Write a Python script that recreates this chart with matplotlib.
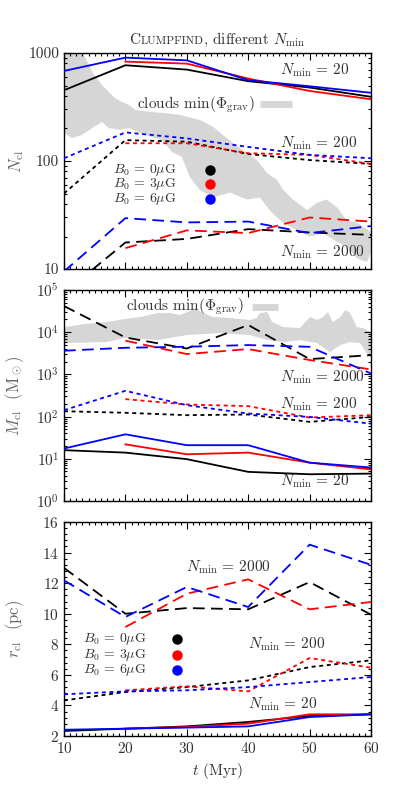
import numpy as np
import matplotlib
matplotlib.use("Agg")
import matplotlib.pyplot as plt
from matplotlib.ticker import MultipleLocator, LogLocator, FixedLocator, FixedFormatter, NullFormatter

plt.rcParams['font.family'] = 'serif'
plt.rcParams['font.serif'] = ['cmr10', 'DejaVu Serif']
plt.rcParams['mathtext.fontset'] = 'cm'
plt.rcParams['axes.formatter.use_mathtext'] = True

# time axis (Myr)
t = np.array([10, 20, 30, 40, 50, 60])
nan = np.nan

# number of clumps
N20_b0 = [452, 770, 702, 548, 479, 393]
N20_b3 = [nan, 832, 797, 580, 445, 373]
N20_b6 = [682, 906, 855, 560, 492, 428]
N200_b0 = [50, 156, 151, 116, 102, 94]
N200_b3 = [nan, 146, 146, 118, 114, 94]
N200_b6 = [106, 184, 162, 135, 114, 106]
N2000_b0 = [6, 17.6, 19, 23.4, 21.8, 20.7]
N2000_b3 = [nan, 15.6, 22.8, 21.5, 30, 27.5]
N2000_b6 = [9.5, 29.6, 27, 27.5, 21.5, 25]

# clouds min(Phi_grav) band, panel 1
cl_N_t_up = [10, 13.1, 14.7, 16.2, 17.3, 18.3, 19.4, 20.6, 21.6, 24, 26.4, 28.9, 32.1, 34.3,
             35.9, 37.5, 39.8, 41.4, 43.1, 44.7, 45.7, 47.3, 49.6, 51.2, 52.8, 54.5, 56.1,
             57.7, 60]
cl_N_up = [1200, 1000, 653, 506, 435, 383, 352, 330, 297, 285, 278, 267, 240, 207,
           174, 147, 119, 102, 77, 67, 54, 44, 35, 41, 44, 37, 28, 27, 22]
cl_N_t_lo = [10, 11.3, 12.9, 14.6, 16.2, 17.3, 19, 20.6, 23.2, 26, 27.6, 29.2, 30.5, 32.1,
             34.3, 37, 39.8, 41.9, 43.5, 44.7, 45.7, 47.9, 50, 52.2, 54.5, 56.1, 57.7,
             59.3, 60]
cl_N_lo = [182, 163, 174, 202, 230, 202, 194, 202, 174, 156, 121, 109, 71, 54,
           46, 51, 44, 46, 35, 30, 27, 23, 20, 21.5, 17.8, 16, 12.6, 11.6, 14]

# clump masses (Msun)
M20_b0 = [16, 14, 9.8, 4.9, 4.3, 4.45]
M20_b3 = [nan, 22, 12.8, 14, 8.1, 5.6]
M20_b6 = [17.5, 38, 21, 21, 8.1, 6.2]
M200_b0 = [134, 123, 108, 112, 75, 98]
M200_b3 = [nan, 259, 193, 177, 95, 108]
M200_b6 = [142, 408, 186, 118, 98, 68]
M2000_b0 = [41700, 7500, 4100, 14800, 2300, 2860]
M2000_b3 = [nan, 6300, 3030, 3980, 2190, 1310]
M2000_b6 = [3630, 4270, 4520, 4950, 4500, 1050]

cl_M_t_up = [10, 13.4, 17, 19.9, 22.4, 25.3, 27.3, 28.9, 30.5, 31.3, 32.6, 34.3, 37, 40.3,
             41.4, 41.9, 43.1, 43.9, 45.7, 48.4, 49.3, 50.1, 51.2, 52.2, 53, 53.8, 55,
             55.8, 56.6, 57.7, 58.7, 60]
cl_M_up = [13200, 15600, 17400, 20500, 22900, 28400, 28400, 25500, 31800, 37400, 28400,
           22900, 21700, 19400, 21700, 28400, 30100, 17400, 13200, 12500, 17400, 22900,
           19400, 22900, 30100, 17400, 22900, 33500, 28400, 13200, 12500, 10100]
cl_M_t_lo = [10, 17, 19.9, 25.3, 30, 35.4, 40.3, 43.1, 45.7, 48.4, 51.2, 53.3, 55, 56.6,
             58.2, 59.3, 60]
cl_M_lo = [5520, 5830, 7270, 6500, 8550, 9550, 8550, 6500, 5830, 6500, 5520, 3380, 4960,
           5830, 5520, 3200, 2570]

# clump radii (pc)
r20_b0 = [2.33, 2.48, 2.63, 2.92, 3.31, 3.42]
r20_b3 = [nan, 2.48, 2.59, 2.81, 3.42, 3.42]
r20_b6 = [2.41, 2.48, 2.55, 2.63, 3.24, 3.42]
r200_b0 = [4.33, 4.88, 5.2, 5.64, 6.51, 6.95]
r200_b3 = [nan, 4.99, 5.25, 4.92, 7.1, 6.47]
r200_b6 = [4.73, 4.92, 4.99, 5.2, 5.53, 5.86]
r2000_b0 = [13.0, 10.0, 10.37, 10.29, 12.07, 9.94]
r2000_b3 = [nan, 9.13, 11.31, 12.25, 10.29, 10.77]
r2000_b6 = [12.18, 9.79, 11.75, 10.44, 14.52, 13.2]

colors = ['black', 'red', 'blue']
b_labels = [r'$B_0\,=\,0\mu$G', r'$B_0\,=\,3\mu$G', r'$B_0\,=\,6\mu$G']
band_col = '#d6d6d6'
txt_col = '#333333'
lw = 1.3
dash_long = (6.5, 3.5)
dash_dot = (2.2, 2.0)

fig = plt.figure(figsize=(3.99, 7.85), dpi=100)
ax1 = fig.add_axes([0.1604, 0.6573, 0.7694, 0.2752])
ax2 = fig.add_axes([0.1604, 0.3618, 0.7694, 0.2688])
ax3 = fig.add_axes([0.1604, 0.0624, 0.7694, 0.2726])


def draw_sets(ax, s20, s200, s2000):
    for c, y in zip(colors, s20):
        ax.plot(t, y, color=c, lw=lw, zorder=3)
    for c, y in zip(colors, s200):
        ax.plot(t, y, color=c, lw=lw, dashes=dash_dot, zorder=3)
    for c, y in zip(colors, s2000):
        ax.plot(t, y, color=c, lw=lw, dashes=dash_long, zorder=3)


def style(ax):
    ax.set_xlim(10, 60)
    ax.xaxis.set_major_locator(MultipleLocator(10))
    ax.xaxis.set_minor_locator(MultipleLocator(1))
    ax.tick_params(which='both', direction='in', top=True, right=True, labelsize=11,
                   labelcolor=txt_col, width=0.8)
    ax.tick_params(which='major', length=5)
    ax.tick_params(which='minor', length=2.5)
    for sp in ax.spines.values():
        sp.set_linewidth(1.0)


def mini_legend(ax, x_txt, x_dot, ys):
    for c, lab, y in zip(colors, b_labels, ys):
        ax.text(x_txt, y, lab, transform=ax.transAxes, fontsize=10, color=txt_col,
                va='center', ha='left')
        ax.plot([x_dot], [y], 'o', color=c, ms=6.5, transform=ax.transAxes, clip_on=False)


def band_key(ax, x_txt, x0, x1, y):
    ax.text(x_txt, y, r'clouds min$(\Phi_{\rm grav})$', transform=ax.transAxes,
            fontsize=11, color=txt_col, va='center', ha='left')
    ax.plot([x0, x1], [y, y], color=band_col, lw=5, solid_capstyle='butt',
            transform=ax.transAxes)


def nmin_label(ax, x, y, n):
    ax.text(x, y, r'$N_{\rm min}\,=\,%d$' % n, transform=ax.transAxes, fontsize=11,
            color=txt_col, va='center')


# panel 1: number of clumps
ax1.fill(np.r_[cl_N_t_up, cl_N_t_lo[::-1]], np.r_[cl_N_up, cl_N_lo[::-1]],
         color=band_col, lw=0, zorder=1)
draw_sets(ax1, [N20_b0, N20_b3, N20_b6], [N200_b0, N200_b3, N200_b6],
          [N2000_b0, N2000_b3, N2000_b6])
ax1.set_yscale('log')
ax1.set_ylim(10, 1000)
style(ax1)
ax1.yaxis.set_major_locator(FixedLocator([10, 100, 1000]))
ax1.yaxis.set_major_formatter(FixedFormatter(['10', '100', '1000']))
ax1.yaxis.set_minor_locator(LogLocator(base=10, subs=np.arange(2, 10)))
ax1.yaxis.set_minor_formatter(NullFormatter())
ax1.tick_params(labelbottom=False)
ax1.set_ylabel(r'$N_{\rm cl}$', fontsize=12, color='#666666')
nmin_label(ax1, 0.703, 0.921, 20)
nmin_label(ax1, 0.703, 0.583, 200)
nmin_label(ax1, 0.703, 0.079, 2000)
band_key(ax1, 0.238, 0.638, 0.743, 0.762)
mini_legend(ax1, 0.16, 0.476, [0.458, 0.394, 0.324])

# panel 2: clump masses
ax2.fill(np.r_[cl_M_t_up, cl_M_t_lo[::-1]], np.r_[cl_M_up, cl_M_lo[::-1]],
         color=band_col, lw=0, zorder=1)
draw_sets(ax2, [M20_b0, M20_b3, M20_b6], [M200_b0, M200_b3, M200_b6],
          [M2000_b0, M2000_b3, M2000_b6])
ax2.set_yscale('log')
ax2.set_ylim(1, 1e5)
style(ax2)
ax2.yaxis.set_minor_locator(LogLocator(base=10, subs=np.arange(2, 10)))
ax2.yaxis.set_minor_formatter(NullFormatter())
ax2.tick_params(labelbottom=False)
ax2.set_ylabel(r'$M_{\rm cl}$  (M$_\odot$)', fontsize=12, color='#666666')
nmin_label(ax2, 0.703, 0.588, 2000)
nmin_label(ax2, 0.703, 0.46, 200)
nmin_label(ax2, 0.703, 0.095, 20)
band_key(ax2, 0.202, 0.612, 0.697, 0.919)

# panel 3: clump radii
draw_sets(ax3, [r20_b0, r20_b3, r20_b6], [r200_b0, r200_b3, r200_b6],
          [r2000_b0, r2000_b3, r2000_b6])
ax3.set_ylim(2, 16)
style(ax3)
ax3.yaxis.set_major_locator(MultipleLocator(2))
ax3.yaxis.set_minor_locator(MultipleLocator(0.4))
ax3.set_ylabel(r'$r_{\rm cl}$  (pc)', fontsize=12, color='#666666')
ax3.set_xlabel(r'$t$ (Myr)', fontsize=11, color=txt_col, labelpad=4)
nmin_label(ax3, 0.397, 0.79, 2000)
nmin_label(ax3, 0.6, 0.43, 200)
nmin_label(ax3, 0.6, 0.15, 20)
mini_legend(ax3, 0.062, 0.368, [0.453, 0.379, 0.308])

for ax in (ax1, ax2, ax3):
    ax.yaxis.set_label_coords(-0.125, 0.5)

# title in small caps, built piece by piece
parts = [('C', 11), ('LUMPFIND', 8.3), (r', different $N_{\rm min}$', 11)]
fig.canvas.draw()
rend = fig.canvas.get_renderer()
texts = [fig.text(0, 0.944, s, fontsize=fs, color=txt_col, va='baseline', ha='left')
         for s, fs in parts]
widths = [tx.get_window_extent(rend).width for tx in texts]
x = 217.5 - sum(widths) / 2
for tx, w in zip(texts, widths):
    tx.set_x(x / fig.bbox.width)
    x += w

fig.savefig('out.png', dpi=100)
